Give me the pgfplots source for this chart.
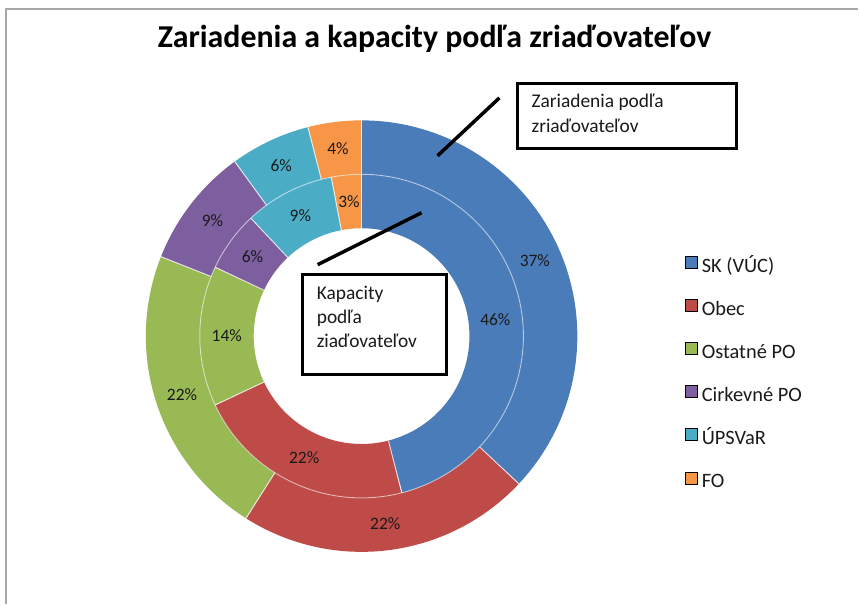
\documentclass[border=0pt]{standalone}
\usepackage{pgfplots}
\pgfplotsset{compat=1.18}
\usepackage{fontspec}
\setmainfont{Carlito}
\definecolor{cSK}{HTML}{4A7CBA}
\definecolor{cObec}{HTML}{BE4B48}
\definecolor{cOst}{HTML}{98B954}
\definecolor{cCirk}{HTML}{7D5FA0}
\definecolor{cUPS}{HTML}{4BACC6}
\definecolor{cFO}{HTML}{F79646}
\definecolor{txt}{HTML}{1A1A1A}
\definecolor{frame}{HTML}{A8A8A8}
% segment: radius, start cumulative %, end cumulative %, colour
\newcommand{\seg}[4]{%
  \addplot[draw=#4, line width=54bp, domain=90-3.6*#3:90-3.6*#2, samples=90, forget plot]
    ({362+#1*cos(x)},{268.5+#1*sin(x)});}
% separator: inner radius, outer radius, cumulative %
\newcommand{\sep}[3]{%
  \addplot[white, opacity=0.75, line width=1bp, domain=#1:#2, samples=2, forget plot]
    ({362+x*cos(90-3.6*#3)},{268.5+x*sin(90-3.6*#3)});}
% label: radius, start %, end %, value
\newcommand{\lab}[4]{%
  \node[font=\fontsize{17.5}{19}\selectfont, text=txt] at ([shift={({90-1.8*(#2+#3)}:#1bp)}]axis cs:362,268.5) {#4\%};}
\newcommand{\ctext}[2]{\node[anchor=base west, inner sep=0pt, font=\fontsize{19.5}{22}\selectfont, text=txt] at (#1) {#2};}
\begin{document}
\begin{tikzpicture}
\begin{axis}[
  x=1bp, y=1bp, xmin=0, xmax=859, ymin=0, ymax=605,
  hide axis, clip=false,
  legend style={at={(axis cs:686,349)}, anchor=north west, draw=none, fill=none,
    inner sep=0pt, row sep=23bp, column sep=4bp,
    font=\fontsize{20.5}{22}\selectfont,
    nodes={inner sep=0bp, text height=12bp, text depth=4bp, text=txt}},
  legend cell align=left,
  legend image code/.code={\fill[#1] (0bp,0bp) rectangle (12bp,12bp);},
]
\path (axis cs:0,0) rectangle (axis cs:859,605);
% outer ring: Zariadenia 37, 22, 22, 9, 6, 4
\seg{189}{0}{37}{cSK}
\seg{189}{37}{59}{cObec}
\seg{189}{59}{81}{cOst}
\seg{189}{81}{90}{cCirk}
\seg{189}{90}{96}{cUPS}
\seg{189}{96}{100}{cFO}
% inner ring: Kapacity 46, 22, 14, 6, 9, 3
\seg{135}{0}{46}{cSK}
\seg{135}{46}{68}{cObec}
\seg{135}{68}{82}{cOst}
\seg{135}{82}{88}{cCirk}
\seg{135}{88}{97}{cUPS}
\seg{135}{97}{100}{cFO}
% separators
\sep{162}{216}{0}\sep{162}{216}{37}\sep{162}{216}{59}\sep{162}{216}{81}\sep{162}{216}{90}\sep{162}{216}{96}
\sep{108}{162}{0}\sep{108}{162}{46}\sep{108}{162}{68}\sep{108}{162}{82}\sep{108}{162}{88}\sep{108}{162}{97}
\addplot[white, opacity=0.5, line width=1bp, domain=0:360, samples=181, forget plot]
  ({362+162*cos(x)},{268.5+162*sin(x)});
% legend
\addlegendimage{fill=cSK}\addlegendentry{SK (VÚC)}
\addlegendimage{fill=cObec}\addlegendentry{Obec}
\addlegendimage{fill=cOst}\addlegendentry{Ostatné PO}
\addlegendimage{fill=cCirk}\addlegendentry{Cirkevné PO}
\addlegendimage{fill=cUPS}\addlegendentry{ÚPSVaR}
\addlegendimage{fill=cFO}\addlegendentry{FO}
% labels
\lab{189}{0}{37}{37}
\lab{189}{37}{59}{22}
\lab{189}{59}{81}{22}
\lab{189}{81}{90}{9}
\lab{189}{90}{96}{6}
\lab{189}{96}{100}{4}
\lab{135}{0}{46}{46}
\lab{135}{46}{68}{22}
\lab{135}{68}{82}{14}
\lab{135}{82}{88}{6}
\lab{135}{88}{97}{9}
\lab{135}{97}{100}{3}
% frame
\draw[frame, line width=2bp] (axis cs:6,0) -- (axis cs:6,596) -- (axis cs:859,596);
% title
\node[anchor=base, inner sep=0pt, font=\bfseries\fontsize{32}{36}\selectfont, text=black] at (axis cs:435,557)
  {Zariadenia a kapacity podľa zriaďovateľov};
% callouts
\draw[black, line width=3.5bp] (axis cs:438,449) -- (axis cs:500,507);
\draw[black, line width=3.5bp] (axis cs:422,392) -- (axis cs:318,340);
\draw[black, line width=3bp, fill=white] (axis cs:518,521) rectangle (axis cs:737,456);
\ctext{axis cs:532,497}{Zariadenia podľa}
\ctext{axis cs:532,472}{zriaďovateľov}
\draw[black, line width=3bp, fill=white] (axis cs:303,330) rectangle (axis cs:447,230);
\ctext{axis cs:317,305}{Kapacity}
\ctext{axis cs:317,281}{podľa}
\ctext{axis cs:317,257}{ziaďovateľov}
\end{axis}
\end{tikzpicture}
\end{document}
